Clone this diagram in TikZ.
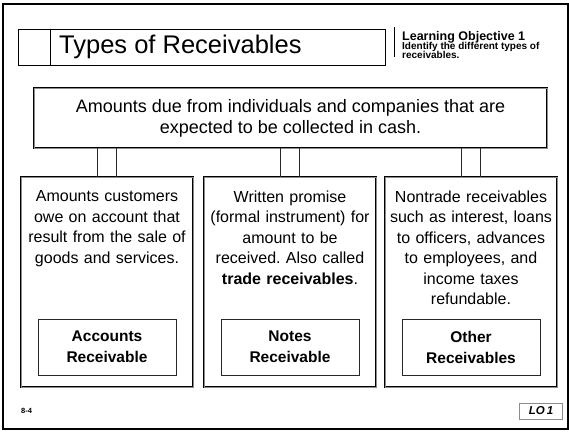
\documentclass[tikz,border=0pt]{standalone}
\usepackage{fontspec}
\setmainfont{Liberation Sans}
\usetikzlibrary{positioning}
\definecolor{rcGray}{RGB}{140,140,140}
\definecolor{rcDark}{RGB}{40,40,40}
\frenchspacing

\begin{document}
\begin{tikzpicture}[
    x=1pt, y=-1pt,
    frame/.style={draw=black, line width=0.9pt, double=rcGray, double distance=0.8pt},
    typebox/.style={frame, minimum width=172pt, minimum height=210pt, inner sep=0pt},
    blurb/.style={anchor=north, text width=168pt, align=center, inner sep=0pt, font=\fontsize{16}{20.5}\selectfont},
    tag/.style={anchor=south, draw=rcDark, line width=0.6pt, minimum width=138pt, minimum height=56pt, inner sep=0pt, align=center, font=\bfseries\fontsize{15.5}{21}\selectfont},
    link/.style={draw=rcDark, line width=0.7pt}
]
  \useasboundingbox (0,0) rectangle (569,431);
  % slide frame
  \draw[line width=1.4pt] (3,4) rectangle (568,429);
  \draw[line width=2.6pt] (3,4) -- (3,429);

  % heading
  \node[draw, line width=0.7pt, minimum width=367pt, minimum height=36pt, inner sep=0pt] (titlebox) at (201.5,47) {};
  \draw[line width=0.7pt] ([xshift=33pt]titlebox.north west) -- ([xshift=33pt]titlebox.south west);
  \node[anchor=west, inner sep=0pt, font=\fontsize{25.5}{30}\selectfont] (title) at (59,47) {Types of Receivables};
  \draw[line width=0.6pt] (394,27) -- (394,57);
  \node[anchor=base west, inner sep=0pt, font=\bfseries\fontsize{12.5}{14}\selectfont] (obj) at (402,40) {Learning Objective 1};
  \node[anchor=base west, inner sep=0pt, font=\bfseries\fontsize{10}{11}\selectfont] (objA) at (402,49.5) {Identify the different types of};
  \node[anchor=base west, inner sep=0pt, font=\bfseries\fontsize{10}{11}\selectfont] (objB) at (402,58.5) {receivables.};

  % definition
  \node[frame, minimum width=513pt, minimum height=60pt, inner sep=0pt, align=center, font=\fontsize{18}{21}\selectfont] (main) at (290.5,118)
    {Amounts due from individuals and companies that are\\expected to be collected in cash.};

  % the three kinds
  \node[typebox] (acct) at (107,282) {};
  \node[typebox] (notes) at (290,282) {};
  \node[typebox] (other) at (471,282) {};

  \node[blurb] (acctTxt) at ([yshift=-14pt]acct.north)
    {Amounts customers\\owe on account that\\result from the sale of\\goods and services.};
  \node[blurb] (notesTxt) at ([yshift=-14pt]notes.north)
    {Written promise\\(formal instrument) for\\amount to be\\received. Also called\\\textbf{trade receivables}.};
  \node[blurb] (otherTxt) at ([yshift=-14pt]other.north)
    {Nontrade receivables\\such as interest, loans\\to officers, advances\\to employees, and\\income taxes\\refundable.};

  \node[tag] (acctTag) at ([yshift=12pt]acct.south) {Accounts\\Receivable};
  \node[tag] (notesTag) at ([yshift=12pt]notes.south) {Notes\\Receivable};
  \node[tag] (otherTag) at ([yshift=12pt]other.south) {Other\\Receivables};

  % stems down from the definition
  \foreach \kind in {acct,notes,other}{
    \draw[link] ([xshift=-9.5pt]\kind.north) -- ([xshift=-9.5pt]\kind.north |- main.south);
    \draw[link] ([xshift=9.5pt]\kind.north) -- ([xshift=9.5pt]\kind.north |- main.south);
  }

  % footer
  \node[anchor=west, inner sep=0pt, font=\bfseries\fontsize{7.5}{9}\selectfont] (slide) at (21,411) {8-4};
  \node[draw=rcGray, line width=0.6pt, minimum width=43pt, minimum height=16pt, inner sep=0pt, font=\bfseries\itshape\fontsize{11.5}{13}\selectfont] (lo) at (541,411) {LO\,1};
\end{tikzpicture}
\end{document}
